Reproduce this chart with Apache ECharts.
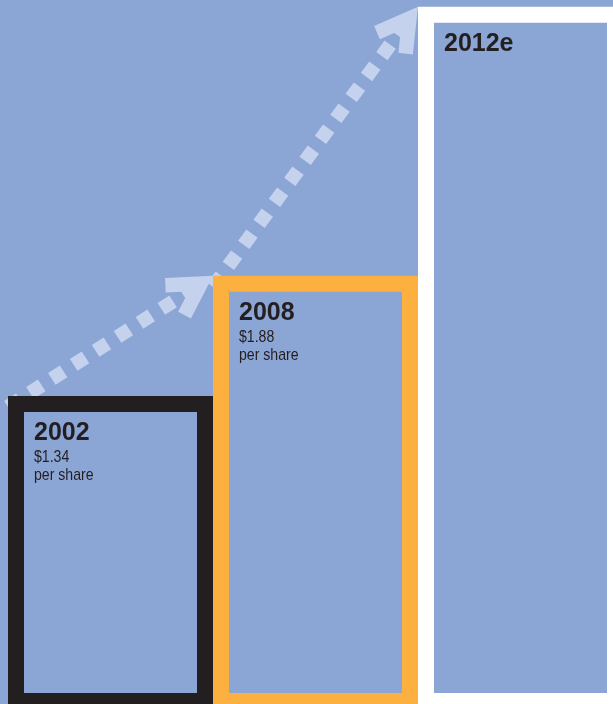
<!DOCTYPE html>
<html><head><meta charset="utf-8">
<script src="https://cdn.jsdelivr.net/npm/echarts/dist/echarts.min.js"></script>
<style>html,body{margin:0;padding:0;background:#8ba5d5;overflow:hidden}#c{width:613px;height:704px}</style>
</head><body><div id="c"></div>
<script>
// ---- data ----
const categories = ['2002', '2008', '2012e'];
const values = [1.34, 1.88, 3.09];
const priceLabels = ['$1.34', '$1.88', ''];
const noteLabels = ['per share', 'per share', ''];

// ---- styles ----
const BG = '#8ba5d5';
const frameColors = ['#231f20', '#fbb040', '#ffffff'];
const ARROW = '#c4d2ee';
const TEXT = '#231f20';
const BORDER = 16;
const NARROW = 0.83;

const chart = echarts.init(document.getElementById('c'), null, {renderer: 'canvas'});

function renderBar(params, api) {
  const i = params.dataIndex;
  const top = api.coord([api.value(0), api.value(1)]);
  const band = api.size([1, 0])[0];
  const base = api.coord([api.value(0), 0])[1];
  const x0 = top[0] - band / 2;
  const y0 = top[1];
  const H = api.getHeight();
  const ix = x0 + BORDER, iy = y0 + BORDER;
  const children = [
    {type: 'rect', shape: {x: x0, y: y0, width: band, height: H - y0 + 2}, style: {fill: frameColors[i]}},
    {type: 'rect', shape: {x: ix, y: iy, width: band - 2 * BORDER, height: base - 1 - iy}, style: {fill: BG}},
    {type: 'text', x: ix + 10, y: iy + 21.5, style: {text: categories[i], fill: TEXT,
      font: 'bold 25px "Liberation Sans", Arial, sans-serif', verticalAlign: 'middle', align: 'left'}}
  ];
  if (priceLabels[i]) children.push({type: 'text', x: ix + 10, y: iy + 45, scaleX: NARROW, style: {text: priceLabels[i], fill: TEXT,
      font: '17px "Liberation Sans", Arial, sans-serif', verticalAlign: 'middle', align: 'left'}});
  if (noteLabels[i]) children.push({type: 'text', x: ix + 10, y: iy + 63, scaleX: NARROW, style: {text: noteLabels[i], fill: TEXT,
      font: '17px "Liberation Sans", Arial, sans-serif', verticalAlign: 'middle', align: 'left'}});
  return {type: 'group', children: children};
}

function pt(P, ang, r) { return [P[0] + Math.cos(ang) * r, P[1] + Math.sin(ang) * r]; }

function renderArrow(params, api) {
  const i = params.dataIndex;
  if (i === 0) return null;
  const band = api.size([1, 0])[0];
  const p0 = api.coord([i - 1, values[i - 1]]);
  const p1 = api.coord([i, values[i]]);
  const S = [p0[0] - band / 2, p0[1] + 11];
  const P = [p1[0] - band / 2, p1[1]];
  const fwd = Math.atan2(P[1] - S[1], P[0] - S[0]);
  const back = fwd + Math.PI;
  const notch = 29, L = 48, th = Math.PI / 6;
  const t = notch * Math.sin(th);
  const Q = pt(P, back, notch);
  const A1 = pt(P, back + th, L);
  const A2 = pt(P, back - th, L);
  const B1 = pt(A1, back + th - Math.PI / 2, t);
  const B2 = pt(A2, back - th + Math.PI / 2, t);
  return {type: 'group', children: [
    {type: 'polyline', shape: {points: [S, Q]}, style: {stroke: ARROW, lineWidth: 14, lineDash: [14, 12], lineCap: 'butt', fill: null}},
    {type: 'polygon', shape: {points: [P, A1, B1, Q, B2, A2]}, style: {fill: ARROW}}
  ]};
}

const seriesData = values.map((v, i) => [i, v]);

chart.setOption({
  animation: false,
  backgroundColor: BG,
  grid: {left: 8, right: 0, top: 0, bottom: 10, containLabel: false},
  // each category occupies one unit; the last bar runs off the right edge as in the reference
  xAxis: {type: 'value', min: -0.5, max: 2.4512, show: false, splitLine: {show: false}},
  yAxis: {type: 'value', min: 0, max: 3.12, show: false, splitLine: {show: false}},
  series: [
    {type: 'custom', name: 'arrows', renderItem: renderArrow, data: seriesData, z: 1, clip: false, silent: true},
    {type: 'custom', name: 'bars', renderItem: renderBar, data: seriesData, z: 2, clip: false, silent: true}
  ]
});
</script></body></html>
